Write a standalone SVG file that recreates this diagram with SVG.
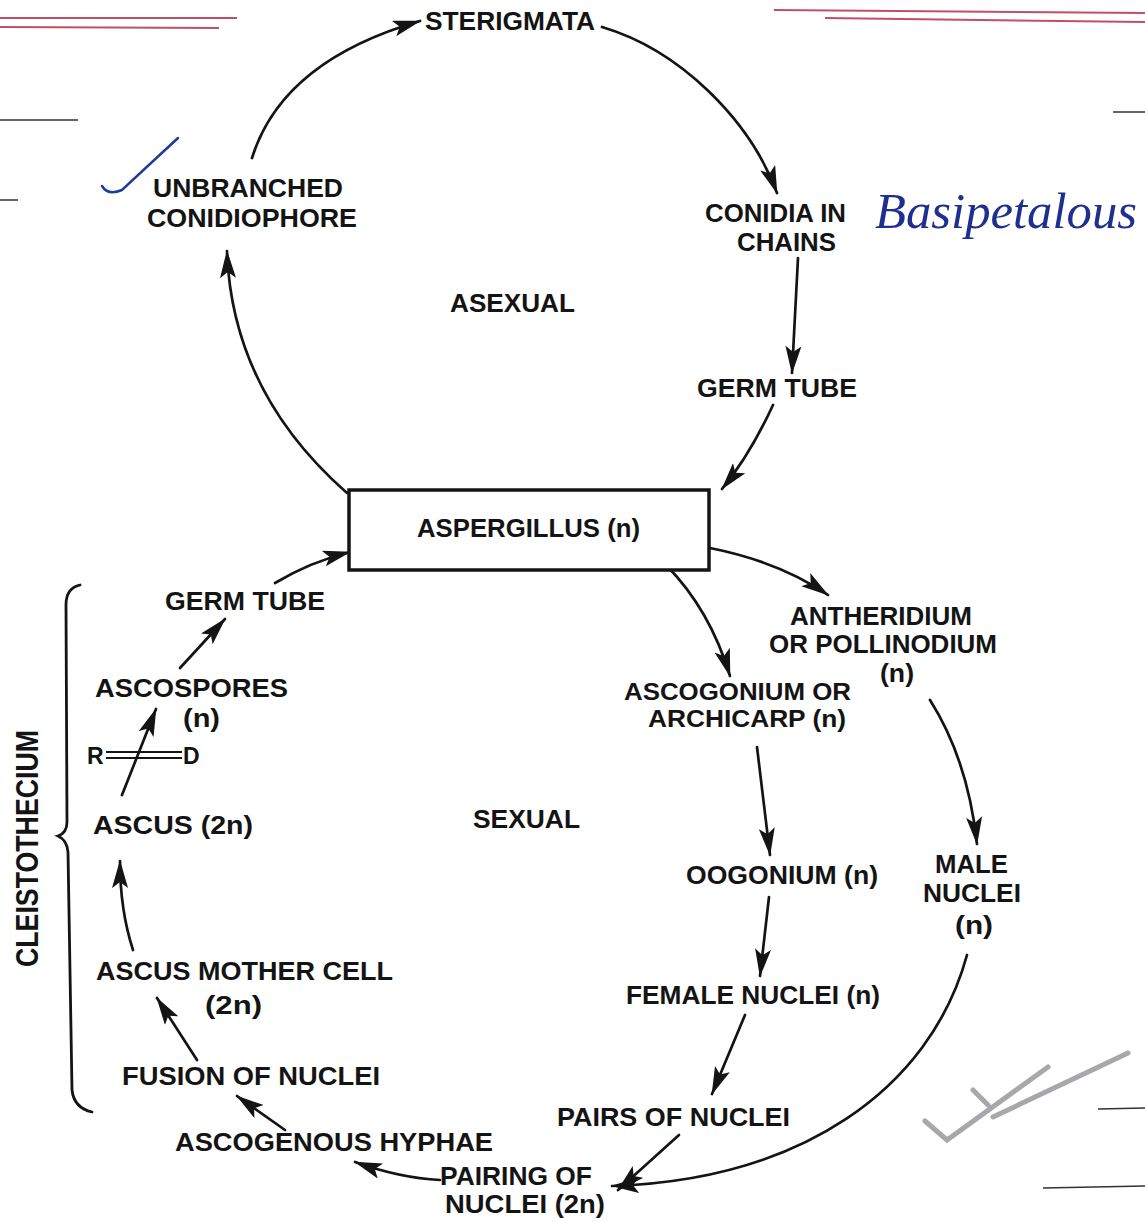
<svg xmlns="http://www.w3.org/2000/svg" width="1145" height="1222" viewBox="0 0 1145 1222">
<defs>
<style>
.t{font-family:"Liberation Sans",Arial,sans-serif;font-weight:bold;font-size:26px;fill:#141414}
.s{font-size:23px}
.c{fill:none;stroke:#141414;stroke-width:2.7;stroke-linecap:round}
.red{fill:none;stroke:#c0506a;stroke-width:2}
</style>
<marker id="ah" viewBox="0 0 28 16" refX="27" refY="8" markerWidth="28" markerHeight="16" markerUnits="userSpaceOnUse" orient="auto">
<path d="M0,0 L28,8 L0,16 L6,8 z" fill="#141414"/>
</marker>
</defs>
<rect width="1145" height="1222" fill="#ffffff"/>

<g id="page-marks">
<path class="red" d="M0 18 L237 18 M0 27 L219 28 M774 10 L1145 13 M825 18 L1145 22"/>
<path fill="none" stroke="#333" stroke-width="1.5" d="M0 120 L78 120 M0 200 L18 200 M1113 112 L1145 112 M1098 1109 L1145 1108 M1043 1188 L1145 1186"/>
<path fill="none" stroke="#8a8a90" stroke-width="5" stroke-linecap="round" opacity="0.75" d="M925 1121 L947 1140 L1048 1067 M993 1117 L1128 1053 M973 1090 L988 1105"/>
<path fill="none" stroke="#1f3a9a" stroke-width="2.5" stroke-linecap="round" d="M102 186 Q108 196 122 190 L178 138"/>
<text x="875" y="228" textLength="262" lengthAdjust="spacingAndGlyphs" style="font-family:'Liberation Serif',serif;font-style:italic;font-size:50px;fill:#1f2f8f">Basipetalous</text>
</g>

<g id="connectors">
<path class="c" marker-end="url(#ah)" d="M347 493 Q232 392 227 251"/>
<path class="c" marker-end="url(#ah)" d="M252 158 C270 100 320 50 420 21"/>
<path class="c" marker-end="url(#ah)" d="M602 27 C680 50 750 120 777 193"/>
<path class="c" marker-end="url(#ah)" d="M798 258 L792 373"/>
<path class="c" marker-end="url(#ah)" d="M773 405 Q750 455 722 489"/>
<path class="c" marker-end="url(#ah)" d="M710 548 Q780 562 828 595"/>
<path class="c" marker-end="url(#ah)" d="M667 566 Q710 610 730 676"/>
<path class="c" marker-end="url(#ah)" d="M930 700 Q968 760 977 844"/>
<path class="c" marker-end="url(#ah)" d="M757 747 L770 855"/>
<path class="c" marker-end="url(#ah)" d="M769 897 L760 976"/>
<path class="c" marker-end="url(#ah)" d="M745 1015 L712 1094"/>
<path class="c" marker-end="url(#ah)" d="M679 1135 L618 1190"/>
<path class="c" marker-end="url(#ah)" d="M967 955 C930 1090 800 1180 612 1186"/>
<path class="c" marker-end="url(#ah)" d="M440 1180 Q400 1178 355 1162"/>
<path class="c" marker-end="url(#ah)" d="M285 1130 L237 1096"/>
<path class="c" marker-end="url(#ah)" d="M197 1060 L157 998"/>
<path class="c" marker-end="url(#ah)" d="M133 950 Q120 910 120 861"/>
<path class="c" marker-end="url(#ah)" d="M122 795 L156 709"/>
<path class="c" marker-end="url(#ah)" d="M180 668 L225 619"/>
<path class="c" marker-end="url(#ah)" d="M275 583 Q310 562 350 552"/>
</g>

<g id="node-sterigmata"><text class="t" x="425" y="30" textLength="170" lengthAdjust="spacingAndGlyphs">STERIGMATA</text></g>
<g id="node-unbranched">
<text class="t" x="153" y="197" textLength="190" lengthAdjust="spacingAndGlyphs">UNBRANCHED</text>
<text class="t" x="147" y="227" textLength="210" lengthAdjust="spacingAndGlyphs">CONIDIOPHORE</text>
</g>
<g id="node-conidia">
<text class="t" x="705" y="222" textLength="141" lengthAdjust="spacingAndGlyphs">CONIDIA IN</text>
<text class="t" x="737" y="251" textLength="99" lengthAdjust="spacingAndGlyphs">CHAINS</text>
</g>
<g id="label-asexual"><text class="t" x="450" y="312" textLength="125" lengthAdjust="spacingAndGlyphs">ASEXUAL</text></g>
<g id="node-germtube1"><text class="t" x="697" y="397" textLength="160" lengthAdjust="spacingAndGlyphs">GERM TUBE</text></g>
<g id="node-aspergillus">
<rect x="349" y="490" width="360" height="80" fill="#fff" stroke="#141414" stroke-width="3.5"/>
<text class="t" x="417" y="537" textLength="223" lengthAdjust="spacingAndGlyphs">ASPERGILLUS (n)</text>
</g>
<g id="node-antheridium">
<text class="t" x="790" y="625" textLength="182" lengthAdjust="spacingAndGlyphs">ANTHERIDIUM</text>
<text class="t" x="769" y="653" textLength="228" lengthAdjust="spacingAndGlyphs">OR POLLINODIUM</text>
<text class="t" x="880" y="682" textLength="34" lengthAdjust="spacingAndGlyphs">(n)</text>
</g>
<g id="node-ascogonium">
<text class="t s" x="624" y="700" textLength="227" lengthAdjust="spacingAndGlyphs">ASCOGONIUM OR</text>
<text class="t s" x="648" y="727" textLength="198" lengthAdjust="spacingAndGlyphs">ARCHICARP (n)</text>
</g>
<g id="node-male">
<text class="t" x="935" y="873" textLength="73" lengthAdjust="spacingAndGlyphs">MALE</text>
<text class="t" x="923" y="902" textLength="98" lengthAdjust="spacingAndGlyphs">NUCLEI</text>
<text class="t" x="955" y="934" textLength="38" lengthAdjust="spacingAndGlyphs">(n)</text>
</g>
<g id="node-oogonium"><text class="t" x="686" y="884" textLength="192" lengthAdjust="spacingAndGlyphs">OOGONIUM (n)</text></g>
<g id="node-female"><text class="t" x="626" y="1004" textLength="254" lengthAdjust="spacingAndGlyphs">FEMALE NUCLEI (n)</text></g>
<g id="node-pairs"><text class="t" x="557" y="1126" textLength="233" lengthAdjust="spacingAndGlyphs">PAIRS  OF NUCLEI</text></g>
<g id="node-pairing">
<text class="t" x="440" y="1185" textLength="152" lengthAdjust="spacingAndGlyphs">PAIRING OF</text>
<text class="t" x="445" y="1213" textLength="160" lengthAdjust="spacingAndGlyphs">NUCLEI (2n)</text>
</g>
<g id="node-ascogenous"><text class="t" x="175" y="1151" textLength="318" lengthAdjust="spacingAndGlyphs">ASCOGENOUS HYPHAE</text></g>
<g id="node-fusion"><text class="t" x="122" y="1085" textLength="258" lengthAdjust="spacingAndGlyphs">FUSION OF NUCLEI</text></g>
<g id="node-ascus-mother">
<text class="t" x="96" y="980" textLength="297" lengthAdjust="spacingAndGlyphs">ASCUS MOTHER CELL</text>
<text class="t" x="205" y="1014" textLength="57" lengthAdjust="spacingAndGlyphs">(2n)</text>
</g>
<g id="node-ascus"><text class="t" x="93" y="834" textLength="160" lengthAdjust="spacingAndGlyphs">ASCUS (2n)</text></g>
<g id="node-rd">
<text class="t" x="87" y="764" style="font-size:23px">R</text>
<path d="M106 752 L182 752 M106 758 L182 758" stroke="#141414" stroke-width="2" fill="none"/>
<text class="t" x="183" y="764" style="font-size:23px">D</text>
</g>
<g id="node-ascospores">
<text class="t" x="95" y="697" textLength="193" lengthAdjust="spacingAndGlyphs">ASCOSPORES</text>
<text class="t" x="183" y="727" textLength="37" lengthAdjust="spacingAndGlyphs">(n)</text>
</g>
<g id="node-germtube2"><text class="t" x="165" y="610" textLength="160" lengthAdjust="spacingAndGlyphs">GERM TUBE</text></g>
<g id="label-sexual"><text class="t" x="473" y="828" textLength="107" lengthAdjust="spacingAndGlyphs">SEXUAL</text></g>
<g id="cleistothecium">
<path fill="none" stroke="#141414" stroke-width="2.8" stroke-linecap="round" d="M80 585 Q66 588 66 605 L67 822 Q67 833 58 836 Q67 840 68 852 L72 1090 Q74 1108 92 1112"/>
<text class="t" transform="translate(38,967) rotate(-90)" x="0" y="0" textLength="237" lengthAdjust="spacingAndGlyphs" style="font-size:31px">CLEISTOTHECIUM</text>
</g>
</svg>
